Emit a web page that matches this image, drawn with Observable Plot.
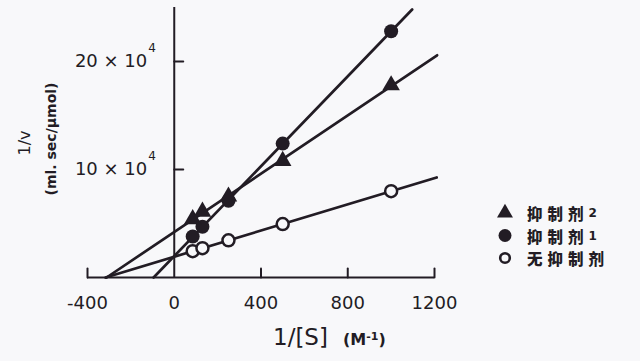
<!DOCTYPE html>
<html><head><meta charset="utf-8">
<script src="https://cdn.jsdelivr.net/npm/d3@7"></script>
<script src="https://cdn.jsdelivr.net/npm/@observablehq/plot@0.6"></script>
<style>
html,body{margin:0;padding:0;background:#f8f8fa;}
#chart svg{display:block;}
</style></head><body><div id="chart"></div>
<script>
// ---- data (1/v in units of 10^4 ml·sec/μmol) ----
const invS = [85, 130, 250, 500, 1000];           // 1/[S] (M^-1)
const seriesNames = ["无抑制剂", "抑制剂1", "抑制剂2"];
const noInhibitor = [2.44, 2.71, 3.44, 4.95, 7.99];
const inhibitor1  = [3.8, 4.7, 7.1, 12.4, 22.8];
const inhibitor2  = [5.4, 6.1, 7.5, 10.8, 17.8];
const lineEnd = [1210, 1097, 1212];                // where each fitted line stops (M^-1)
const xTicks = [-400, 0, 400, 800, 1200];
const xTickMarks = [-400, 400, 800, 1200];
const yTicks = [10, 20];
const yMax = 25;
const legendOrder = ["抑制剂2", "抑制剂1", "无抑制剂"];

const ink = "#221c24", bg = "#f8f8fa";
const font = "DejaVu Sans, sans-serif";
const cjk = "'Noto Sans CJK SC', sans-serif";

const seriesValues = [noInhibitor, inhibitor1, inhibitor2];
const points = seriesNames.flatMap((s, i) => invS.map((x, j) => ({series: s, x, y: seriesValues[i][j]})));

function fit(xs, ys) {
  const mx = d3.mean(xs), my = d3.mean(ys);
  const sxy = d3.sum(xs, (x, i) => (x - mx) * (ys[i] - my));
  const sxx = d3.sum(xs, x => (x - mx) ** 2);
  const m = sxy / sxx;
  return {m, b: my - m * mx};
}
const lines = seriesNames.flatMap((s, i) => {
  const {m, b} = fit(invS, seriesValues[i]);
  const x0 = -b / m;
  return [{series: s, x: x0, y: 0}, {series: s, x: lineEnd[i], y: b + m * lineEnd[i]}];
});

const tickShape = {draw(ctx, l) { ctx.moveTo(0, 0); ctx.lineTo(0, -l); }};

const chart = Plot.plot({
  width: 640, height: 361,
  marginLeft: 87, marginRight: 206, marginTop: 7, marginBottom: 84,
  x: {domain: [-400, 1200], axis: null},
  y: {domain: [0, yMax], axis: null},
  style: {background: "transparent", overflow: "visible"},
  marks: [
    Plot.ruleY([0], {stroke: ink, strokeWidth: 2}),
    Plot.ruleX([0], {stroke: ink, strokeWidth: 2}),
    Plot.vector(xTickMarks, {x: d => d, y: 0, length: 9, anchor: "start", shape: tickShape, stroke: ink, strokeWidth: 2}),
    Plot.vector(yTicks, {x: 0, y: d => d, length: 9, rotate: 90, anchor: "start", shape: tickShape, stroke: ink, strokeWidth: 2}),
    Plot.line(lines, {x: "x", y: "y", z: "series", stroke: ink, strokeWidth: 2.7}),
    Plot.dot(points.filter(d => d.series === seriesNames[0]), {x: "x", y: "y", r: 6, stroke: ink, strokeWidth: 2.5, fill: bg}),
    Plot.dot(points.filter(d => d.series === seriesNames[1]), {x: "x", y: "y", r: 7, fill: ink}),
    Plot.dot(points.filter(d => d.series === seriesNames[2]), {x: "x", y: "y", r: 6.5, symbol: "triangle", fill: ink}),
    Plot.text(xTicks, {x: d => d, y: 0, text: d => String(d), dy: 26, fontSize: 18, fontFamily: font, fill: ink}),
    Plot.text(yTicks, {x: 0, y: d => d, text: d => `${d} × 10`, textAnchor: "end", dx: -27, fontSize: 18, fontFamily: font, fill: ink}),
    Plot.text(yTicks, {x: 0, y: d => d, text: () => "4", textAnchor: "start", dx: -26, dy: -13, fontSize: 12, fontFamily: font, fill: ink})
  ]
});
document.getElementById("chart").append(chart);

const svg = d3.select(chart);
// y-axis title
svg.append("text").attr("transform", "translate(24,143) rotate(-90)")
  .attr("text-anchor", "middle").attr("dominant-baseline", "central")
  .attr("font-family", font).attr("font-size", 16).attr("fill", ink).text("1/v");
svg.append("text").attr("transform", "translate(51,139) rotate(-90)")
  .attr("text-anchor", "middle").attr("dominant-baseline", "central")
  .attr("font-family", font).attr("font-weight", "bold").attr("font-size", 14).attr("fill", ink).text("(ml. sec/μmol)");
// x-axis title
const xt = svg.append("text").attr("x", 273).attr("y", 345).attr("text-anchor", "start").attr("font-family", font).attr("fill", ink);
xt.append("tspan").attr("font-size", 23).text("1/[S]");
xt.append("tspan").attr("x", 343).attr("font-size", 16).attr("font-weight", "bold").text("(M");
xt.append("tspan").attr("font-size", 11).attr("font-weight", "bold").attr("dy", -5).text("-1");
xt.append("tspan").attr("font-size", 16).attr("font-weight", "bold").attr("dy", 5).text(")");
// legend
const lg = svg.append("g").attr("text-anchor", "start");
legendOrder.forEach((name, i) => {
  const cy = 213 + i * 22.5, cx = 505;
  if (name === seriesNames[2]) {
    lg.append("path").attr("transform", `translate(${cx},${cy})`).attr("d", d3.symbol(d3.symbolTriangle, 110)()).attr("fill", ink);
  } else if (name === seriesNames[1]) {
    lg.append("circle").attr("cx", cx).attr("cy", cy).attr("r", 6.5).attr("fill", ink);
  } else {
    lg.append("circle").attr("cx", cx).attr("cy", cy).attr("r", 4.8).attr("fill", bg).attr("stroke", ink).attr("stroke-width", 2.6);
  }
  const t = lg.append("text").attr("x", 527).attr("y", cy).attr("text-anchor", "start").attr("dominant-baseline", "central")
    .attr("font-family", cjk).attr("font-weight", "900").attr("fill", ink);
  const m = name.match(/^(.*?)(\d*)$/);
  t.append("tspan").attr("font-size", 15.5).attr("letter-spacing", 5).text(m[1]);
  if (m[2]) t.append("tspan").attr("font-size", 12).attr("font-family", font).attr("font-weight", "bold").text(m[2]);
});
</script></body></html>
